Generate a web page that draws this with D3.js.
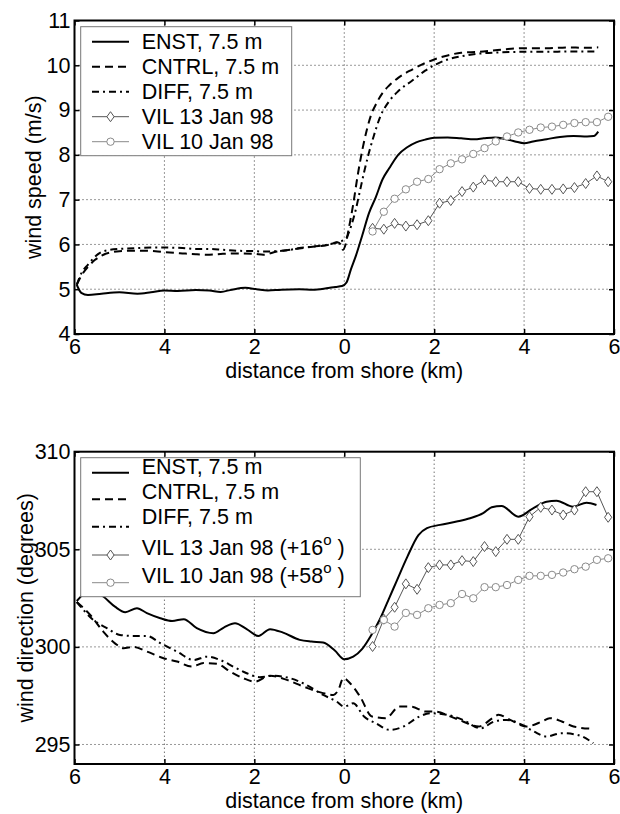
<!DOCTYPE html>
<html><head><meta charset="utf-8">
<script src="https://cdn.jsdelivr.net/npm/d3@7"></script>
<style>html,body{margin:0;padding:0;background:#fff}svg{display:block}text{font-family:"Liberation Sans",Arial,Helvetica,sans-serif;fill:#000}</style>
</head><body><svg id="c" width="620" height="814"></svg>
<script>
// ---------- data ----------
const xTickValues = [-6,-4,-2,0,2,4,6];
const xTickLabels = ["6","4","2","0","2","4","6"];
const speedTicks = [4,5,6,7,8,9,10,11];
const dirTicks = [295,300,305,310];

const speedLegend = ["ENST, 7.5 m","CNTRL, 7.5 m","DIFF, 7.5 m","VIL 13 Jan 98","VIL 10 Jan 98"];
const dirLegend = [["ENST, 7.5 m",""],["CNTRL, 7.5 m",""],["DIFF, 7.5 m",""],["VIL 13 Jan 98 (+16","o"],["VIL 10 Jan 98 (+58","o"]];

const enstSpeed = [[-5.95,5.1],[-5.85,4.92],[-5.7,4.87],[-5.4,4.9],[-5.0,4.93],[-4.6,4.9],[-4.3,4.93],[-4.0,4.97],[-3.7,4.96],[-3.3,4.98],[-3.0,4.97],[-2.75,4.94],[-2.5,4.99],[-2.2,5.03],[-1.95,5.0],[-1.7,4.97],[-1.4,4.99],[-1.0,5.0],[-0.7,4.99],[-0.4,5.02],[-0.2,5.05],[-0.05,5.07],[0.05,5.15],[0.15,5.45],[0.26,5.75],[0.4,6.2],[0.55,6.7],[0.7,7.05],[0.85,7.45],[1.0,7.7],[1.2,8.0],[1.4,8.17],[1.6,8.28],[1.8,8.34],[2.0,8.38],[2.3,8.39],[2.6,8.37],[2.9,8.35],[3.1,8.37],[3.35,8.39],[3.6,8.35],[3.8,8.3],[4.0,8.26],[4.2,8.3],[4.5,8.35],[4.8,8.4],[5.1,8.42],[5.4,8.41],[5.55,8.42],[5.65,8.52]];
const cntrlSpeed = [[-5.95,5.1],[-5.85,5.3],[-5.7,5.5],[-5.55,5.65],[-5.4,5.75],[-5.2,5.82],[-5.0,5.85],[-4.6,5.86],[-4.2,5.85],[-4.0,5.83],[-3.6,5.8],[-3.3,5.78],[-3.0,5.77],[-2.7,5.79],[-2.4,5.8],[-2.0,5.79],[-1.8,5.77],[-1.5,5.84],[-1.2,5.88],[-1.0,5.91],[-0.7,5.95],[-0.4,5.98],[-0.15,6.05],[-0.08,6.0],[-0.03,5.88],[0.03,6.0],[0.1,6.35],[0.2,6.9],[0.3,7.55],[0.4,8.1],[0.5,8.55],[0.6,8.9],[0.7,9.12],[0.85,9.38],[1.0,9.55],[1.2,9.72],[1.5,9.9],[1.8,10.05],[2.0,10.13],[2.3,10.22],[2.6,10.28],[3.0,10.3],[3.3,10.33],[3.6,10.36],[4.0,10.38],[4.5,10.38],[5.0,10.4],[5.3,10.39],[5.65,10.4]];
const diffSpeed = [[-5.95,5.1],[-5.85,5.35],[-5.7,5.55],[-5.55,5.72],[-5.4,5.83],[-5.2,5.88],[-5.0,5.9],[-4.6,5.92],[-4.2,5.93],[-4.0,5.93],[-3.6,5.92],[-3.3,5.9],[-3.0,5.9],[-2.7,5.88],[-2.4,5.86],[-2.0,5.85],[-1.8,5.84],[-1.5,5.85],[-1.2,5.88],[-1.0,5.92],[-0.7,5.95],[-0.4,5.99],[-0.15,6.05],[-0.05,6.08],[0.05,6.15],[0.15,6.4],[0.25,6.75],[0.35,7.2],[0.45,7.65],[0.55,8.05],[0.65,8.4],[0.8,8.85],[1.0,9.2],[1.2,9.42],[1.5,9.65],[1.8,9.88],[2.0,10.0],[2.3,10.13],[2.6,10.2],[3.0,10.26],[3.5,10.29],[4.0,10.3],[4.5,10.3],[5.0,10.31],[5.65,10.31]];

const vilX = [0.63,0.88,1.12,1.37,1.62,1.87,2.12,2.37,2.62,2.87,3.12,3.37,3.62,3.87,4.12,4.37,4.62,4.87,5.12,5.37,5.62,5.87];
const vil13Speed = [6.36,6.34,6.47,6.41,6.44,6.53,6.92,6.98,7.18,7.28,7.44,7.40,7.40,7.40,7.25,7.23,7.23,7.24,7.27,7.36,7.53,7.40];
const vil10Speed = [6.29,6.73,7.02,7.23,7.40,7.46,7.68,7.81,7.90,8.02,8.15,8.30,8.41,8.50,8.56,8.61,8.63,8.67,8.71,8.73,8.73,8.85];

const enstDir = [[-5.95,302.35],[-5.85,302.6],[-5.7,302.9],[-5.55,302.85],[-5.36,302.58],[-5.1,302.06],[-4.87,301.78],[-4.61,301.98],[-4.39,301.73],[-4.09,301.47],[-3.83,301.33],[-3.57,301.42],[-3.28,300.96],[-2.91,300.7],[-2.68,300.99],[-2.43,301.21],[-2.17,300.91],[-1.91,300.56],[-1.65,300.91],[-1.36,300.73],[-0.99,300.36],[-0.73,300.27],[-0.47,300.22],[-0.21,299.81],[0,299.37],[0.2,299.5],[0.4,299.9],[0.6,300.6],[0.79,301.4],[1.0,302.5],[1.17,303.4],[1.4,304.6],[1.65,305.73],[1.84,306.08],[2.13,306.25],[2.5,306.42],[2.8,306.59],[3.09,306.85],[3.28,307.15],[3.5,307.22],[3.87,306.67],[4.2,307.1],[4.5,307.44],[4.72,307.49],[5.09,307.18],[5.39,307.39],[5.61,307.27]];
const cntrlDir = [[-5.95,302.3],[-5.65,301.64],[-5.36,300.78],[-5.1,300.18],[-4.91,299.93],[-4.69,300.0],[-4.39,299.76],[-4.02,299.42],[-3.72,299.25],[-3.39,298.99],[-3.13,299.17],[-2.83,299.13],[-2.54,298.74],[-2.25,298.4],[-1.99,298.22],[-1.65,298.52],[-1.28,298.31],[-0.91,297.97],[-0.47,297.63],[-0.24,297.54],[-0.13,297.8],[-0.02,298.4],[0.13,298.14],[0.35,297.46],[0.62,296.43],[0.92,296.35],[1.23,296.94],[1.5,296.94],[1.8,296.69],[2.02,296.69],[2.37,296.43],[2.64,296.18],[2.99,295.92],[3.3,296.35],[3.43,296.52],[3.69,296.26],[4.05,295.92],[4.4,296.18],[4.57,296.35],[4.84,296.18],[5.1,295.92],[5.54,295.8]];
const diffDir = [[-5.95,302.3],[-5.58,301.38],[-5.28,300.96],[-4.99,300.61],[-4.69,300.56],[-4.39,300.56],[-4.09,300.19],[-3.72,299.76],[-3.35,299.33],[-3.05,299.5],[-2.76,299.33],[-2.47,298.99],[-2.17,298.65],[-1.88,298.45],[-1.58,298.52],[-1.21,298.4],[-0.84,298.05],[-0.47,297.54],[-0.17,297.2],[0,296.94],[0.2,297.11],[0.44,296.43],[0.7,296.09],[1.01,295.75],[1.32,295.92],[1.67,296.43],[1.93,296.6],[2.29,296.52],[2.64,296.26],[3.03,295.83],[3.34,296.18],[3.61,296.26],[3.96,296.0],[4.22,295.66],[4.49,295.41],[4.84,295.58],[5.19,295.49],[5.54,295.07]];
const vil13Dir = [300.02,301.42,302.03,303.23,302.95,304.06,304.2,304.2,304.42,304.37,305.14,304.88,305.51,305.51,306.67,307.15,307.01,306.76,307.01,307.95,307.95,306.64];
const vil10Dir = [300.87,301.38,301.04,301.74,301.64,301.98,302.15,302.24,302.71,302.49,303.06,303.06,303.17,303.43,303.64,303.64,303.69,303.81,303.98,304.11,304.46,304.54];

// ---------- styles ----------
const FONT = 21.5;
const styles = [
  {stroke:"#000", width:2, dash:null, marker:null},
  {stroke:"#000", width:2, dash:"8,5", marker:null},
  {stroke:"#000", width:2, dash:"7,4,2,4", marker:null},
  {stroke:"#555", width:1, dash:null, marker:"diamond"},
  {stroke:"#8a8a8a", width:1, dash:null, marker:"circle"}
];

const svg = d3.select("#c");

function drawMarker(g, type, cx, cy, color){
  if(type==="diamond"){
    g.append("path").attr("d",`M${cx},${cy-5}L${cx+3.6},${cy}L${cx},${cy+5}L${cx-3.6},${cy}Z`)
      .attr("fill","#fff").attr("stroke",color).attr("stroke-width",1);
  } else if(type==="circle"){
    g.append("circle").attr("cx",cx).attr("cy",cy).attr("r",3.7)
      .attr("fill","#fff").attr("stroke",color).attr("stroke-width",1);
  }
}

function panel(opts){
  const {x0,x1,y0,y1,yDomain,yTicks,gridY,series,vil,yLabel,yLabelX,legend} = opts;
  const x = d3.scaleLinear().domain([-6,6]).range([x0,x1]);
  const y = d3.scaleLinear().domain(yDomain).range([y1,y0]);
  const g = svg.append("g");

  // grid
  const grid = g.append("g").attr("stroke","#333").attr("stroke-width",1).attr("stroke-dasharray","1,3");
  xTickValues.slice(1,-1).forEach(v=>grid.append("line").attr("x1",x(v)).attr("x2",x(v)).attr("y1",y0).attr("y2",y1));
  gridY.forEach(v=>grid.append("line").attr("x1",x0).attr("x2",x1).attr("y1",y(v)).attr("y2",y(v)));

  // model lines
  const line = d3.line().x(d=>x(d[0])).y(d=>y(d[1])).curve(d3.curveMonotoneX);
  series.forEach((s,i)=>{
    const st = styles[i];
    g.append("path").attr("d",line(s)).attr("fill","none").attr("stroke",st.stroke)
      .attr("stroke-width",st.width).attr("stroke-dasharray",st.dash);
  });
  // VIL lines
  const lin = d3.line().x(d=>x(d[0])).y(d=>y(d[1]));
  vil.forEach((vals,j)=>{
    const st = styles[3+j];
    const pts = vilX.map((xx,k)=>[xx,vals[k]]);
    g.append("path").attr("d",lin(pts)).attr("fill","none").attr("stroke",st.stroke).attr("stroke-width",st.width);
    const mg = g.append("g");
    pts.forEach(p=>drawMarker(mg, st.marker, x(p[0]), y(p[1]), st.stroke));
  });

  // legend
  const lg = g.append("g");
  lg.append("rect").attr("x",legend.x).attr("y",legend.y).attr("width",legend.w).attr("height",legend.h)
    .attr("fill","#fff").attr("stroke","#777").attr("stroke-width",1);
  legend.labels.forEach((lab,i)=>{
    const st = styles[i];
    const ly = legend.sampleY[i];
    lg.append("line").attr("x1",legend.sx0).attr("x2",legend.sx1).attr("y1",ly).attr("y2",ly)
      .attr("stroke",st.stroke).attr("stroke-width",st.width).attr("stroke-dasharray",st.dash);
    if(st.marker) drawMarker(lg, st.marker, (legend.sx0+legend.sx1)/2, ly, st.stroke);
    const t = lg.append("text").attr("x",legend.tx).attr("y",legend.textY[i]).attr("font-size",FONT);
    if(Array.isArray(lab)){
      t.append("tspan").text(lab[0]);
      if(lab[1]){
        t.append("tspan").attr("font-size",15).attr("dy",-10).text(lab[1]);
        t.append("tspan").attr("dy",10).text("\u00a0)");
      }
    } else t.text(lab);
  });

  // axes (ticks inward)
  const ax = g.append("g").attr("font-size",FONT);
  const bottom = d3.axisBottom(x).tickValues(xTickValues).tickFormat((d,i)=>xTickLabels[i]).tickSizeInner(-5).tickSizeOuter(0).tickPadding(5);
  const left = d3.axisLeft(y).tickValues(yTicks).tickFormat(d3.format("d")).tickSizeInner(-5).tickSizeOuter(0).tickPadding(4);
  const topA = d3.axisTop(x).tickValues(xTickValues).tickFormat("").tickSizeInner(-5).tickSizeOuter(0);
  const rightA = d3.axisRight(y).tickValues(yTicks).tickFormat("").tickSizeInner(-5).tickSizeOuter(0);
  [[bottom,`translate(0,${y1})`],[left,`translate(${x0},0)`],[topA,`translate(0,${y0})`],[rightA,`translate(${x1},0)`]].forEach(([a,tr])=>{
    const gg = ax.append("g").attr("transform",tr).call(a);
    gg.select(".domain").remove();
    gg.selectAll("line").attr("stroke","#000").attr("stroke-width",1.5);
    gg.selectAll("text").attr("font-family",null).attr("font-size",FONT).attr("fill","#000");
  });
  g.append("rect").attr("x",x0).attr("y",y0).attr("width",x1-x0).attr("height",y1-y0)
    .attr("fill","none").attr("stroke","#000").attr("stroke-width",2);

  // labels
  g.append("text").attr("x",(x0+x1)/2).attr("y",y1+44).attr("text-anchor","middle").attr("font-size",FONT)
    .text("distance from shore (km)");
  g.append("text").attr("transform",`translate(${yLabelX},${(y0+y1)/2}) rotate(-90)`).attr("text-anchor","middle")
    .attr("font-size",FONT).text(yLabel);
}

panel({x0:74.5,x1:614,y0:20.5,y1:334,yDomain:[4,11],yTicks:speedTicks,gridY:[5,6,7,8,9,10],
  series:[enstSpeed,cntrlSpeed,diffSpeed],vil:[vil13Speed,vil10Speed],
  yLabel:"wind speed (m/s)",yLabelX:41,
  legend:{x:80.7,y:26.7,w:211,h:129,sx0:92,sx1:129,tx:141.7,labels:speedLegend,
    sampleY:[41.7,66.7,91.7,116.7,141.7],textY:[49.3,74.3,99.3,124.3,149.3]}});

panel({x0:74.5,x1:614,y0:451.7,y1:764,yDomain:[294,310],yTicks:dirTicks,gridY:[295,300,305],
  series:[enstDir,cntrlDir,diffDir],vil:[vil13Dir,vil10Dir],
  yLabel:"wind direction (degrees)",yLabelX:33,
  legend:{x:80.7,y:457.7,w:279.6,h:139,sx0:92,sx1:129,tx:141.7,labels:dirLegend,
    sampleY:[472.7,499.3,526.7,555,582.7],textY:[474,499,524,555,583]}});
</script></body></html>
